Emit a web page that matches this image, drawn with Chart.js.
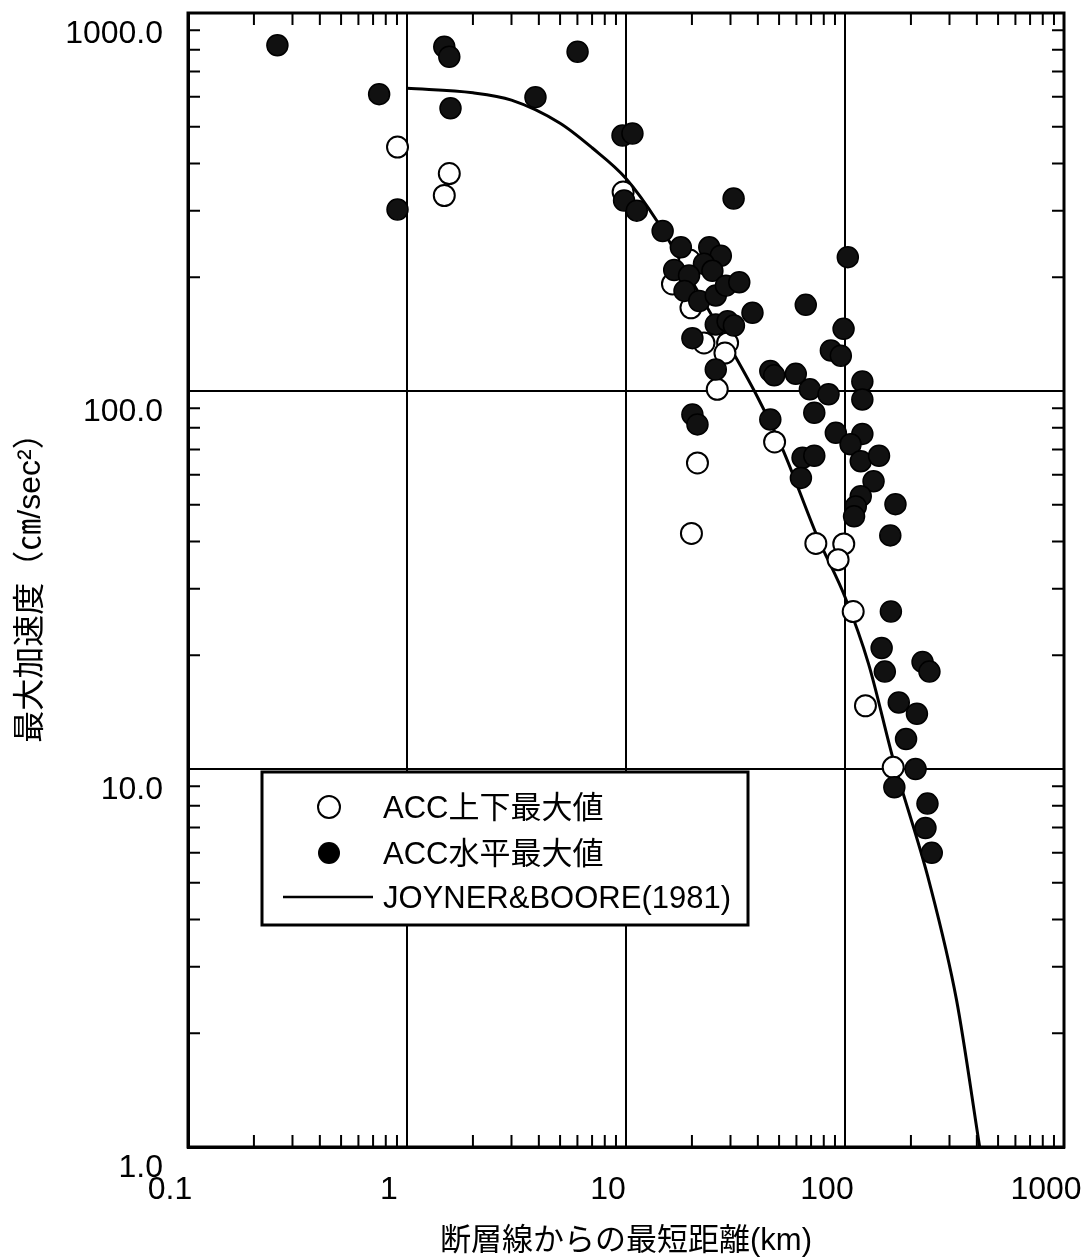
<!DOCTYPE html>
<html lang="ja">
<head>
<meta charset="UTF-8">
<title>最大加速度と断層線からの最短距離</title>
<script src="https://cdn.jsdelivr.net/npm/chart.js@4"></script>
<style>
  html, body { margin: 0; padding: 0; background: #fff; }
</style>
</head>
<body>
<canvas id="chart" width="1092" height="1260"></canvas>
<script>
// 目盛り (対数軸、10のべき乗だけラベル)
const xTickValues = [0.1, 1, 10, 100, 1000];
const xTickLabels = ['0.1', '1', '10', '100', '1000'];
const yTickValues = [1, 10, 100, 1000];
const yTickLabels = ['1.0', '10.0', '100.0', '1000.0'];

// ACC上下最大値 (白丸) - 図から読み取り
const openDist = [0.905, 1.56, 1.48, 9.7, 16.3, 19.5, 19.8, 22.7, 29.1, 28.3, 26.1, 47.7, 21.2, 19.9, 73.6, 98.7, 93, 109, 124, 166];
const openAcc  = [442, 376, 329, 336, 192, 222, 166, 134, 134, 126, 101, 73.3, 64.5, 42.0, 39.5, 39.4, 35.8, 26.1, 14.7, 10.1];

// ACC水平最大値 (黒丸)
const solidDist = [0.256, 0.746, 0.905, 1.48, 1.56, 1.58, 3.86, 6.01, 9.64, 10.7, 9.8, 11.2,
  14.7, 17.8, 24.0, 27.1, 22.7, 24.8, 31.0, 16.6, 19.4, 18.5, 21.6, 25.7, 28.6, 32.9, 37.8,
  25.7, 29.1, 31.1, 20.1, 66.2, 98.5, 103, 86.2, 95.7, 25.7, 45.6, 47.5, 59.6, 69.1, 84.1,
  120, 120, 20.1, 21.2, 45.6, 72.4, 90.8, 120, 106, 118, 143, 64, 72.4, 62.9, 135, 118, 112,
  110, 170, 161, 162, 147, 152, 226, 243, 176, 213, 190, 210, 168, 238, 233, 249];
const solidAcc = [822, 610, 302, 814, 766, 560, 599, 790, 474, 480, 319, 300,
  265, 240, 240, 228, 217, 208, 323, 209, 202, 184, 173, 179, 190, 194, 161,
  150, 153, 149, 138, 169, 146, 226, 128, 124, 114, 113, 110, 111, 101, 98,
  106, 95, 86.7, 81.6, 84.1, 87.6, 77.5, 77, 72.3, 65.2, 67.4, 66.6, 67.4, 58.9, 57.7, 52.7, 49.5,
  46.6, 50.2, 41.5, 26.1, 20.9, 18.1, 19.2, 18.1, 15.0, 14.0, 12.0, 10.0, 8.95, 8.1, 6.98, 6.0];

// JOYNER&BOORE(1981) 曲線 - 図から読み取り
const curveDist = [1, 2, 3, 5, 7, 10, 14, 20, 30, 40, 52, 75, 100, 128, 166, 243, 323, 412];
const curveAcc  = [632, 615, 588, 511, 440, 365, 279, 195, 130, 96, 70, 41, 28.5, 19, 10.6, 5.0, 2.45, 1.0];

const toPoints = (xs, ys) => xs.map((x, i) => ({ x: x, y: ys[i] }));

const FONT = "'Liberation Sans', 'Noto Sans CJK JP', sans-serif";
Chart.defaults.font.family = FONT;
Chart.defaults.font.size = 32;
Chart.defaults.color = '#000';

// 内向きの補助目盛りと枠線
const minorTicks = {
  id: 'minorTicks',
  beforeDatasetsDraw(chart) {
    const { ctx, chartArea: a, scales: { x, y } } = chart;
    ctx.save();
    ctx.strokeStyle = '#000';
    ctx.lineWidth = 2;
    ctx.beginPath();
    for (let e = -1; e < 3; e++) {
      for (let m = 2; m <= 9; m++) {
        const px = x.getPixelForValue(m * Math.pow(10, e));
        ctx.moveTo(px, a.bottom); ctx.lineTo(px, a.bottom - 12);
        ctx.moveTo(px, a.top); ctx.lineTo(px, a.top + 12);
      }
    }
    for (let e = 0; e < 3; e++) {
      for (let m = 2; m <= 9; m++) {
        const py = y.getPixelForValue(m * Math.pow(10, e));
        ctx.moveTo(a.left, py); ctx.lineTo(a.left + 12, py);
        ctx.moveTo(a.right, py); ctx.lineTo(a.right - 12, py);
      }
    }
    ctx.stroke();
    ctx.lineWidth = 3;
    ctx.strokeRect(a.left, a.top, a.right - a.left, a.bottom - a.top);
    ctx.restore();
  }
};

// 枠付きの凡例 (グラフ内左下)
const boxLegend = {
  id: 'boxLegend',
  afterDatasetsDraw(chart) {
    const { ctx, chartArea: a } = chart;
    const ds = chart.data.datasets;
    const bx = a.left + 74, by = a.top + 759, bw = 486, bh = 153;
    ctx.save();
    ctx.fillStyle = '#fff';
    ctx.fillRect(bx, by, bw, bh);
    ctx.lineWidth = 3;
    ctx.strokeStyle = '#000';
    ctx.strokeRect(bx, by, bw, bh);

    ctx.font = '31px ' + FONT;
    ctx.textBaseline = 'middle';
    ctx.fillStyle = '#000';
    const tx = bx + 121, mx = bx + 67;

    // 白丸
    ctx.beginPath();
    ctx.arc(mx, by + 35, 11, 0, Math.PI * 2);
    ctx.fillStyle = '#fff'; ctx.fill();
    ctx.lineWidth = 2; ctx.stroke();
    ctx.fillStyle = '#000';
    ctx.fillText(ds[1].label, tx, by + 37);

    // 黒丸
    ctx.beginPath();
    ctx.arc(mx, by + 81, 11, 0, Math.PI * 2);
    ctx.fill();
    ctx.fillText(ds[0].label, tx, by + 83);

    // 線
    ctx.beginPath();
    ctx.lineWidth = 2.5;
    ctx.moveTo(bx + 21, by + 125);
    ctx.lineTo(bx + 111, by + 125);
    ctx.stroke();
    ctx.fillText(ds[2].label, tx, by + 127);
    ctx.restore();
  }
};

new Chart(document.getElementById('chart'), {
  type: 'scatter',
  data: {
    datasets: [
      {
        label: 'ACC水平最大値',
        data: toPoints(solidDist, solidAcc),
        order: 0,
        pointRadius: 10.5,
        backgroundColor: '#111',
        borderColor: '#000',
        borderWidth: 1.5
      },
      {
        label: 'ACC上下最大値',
        data: toPoints(openDist, openAcc),
        order: 1,
        pointRadius: 10.5,
        backgroundColor: '#fff',
        borderColor: '#000',
        borderWidth: 2
      },
      {
        label: 'JOYNER&BOORE(1981)',
        data: toPoints(curveDist, curveAcc),
        order: 2,
        showLine: true,
        pointRadius: 0,
        borderColor: '#000',
        borderWidth: 3,
        cubicInterpolationMode: 'monotone',
        fill: false
      }
    ]
  },
  options: {
    responsive: false,
    animation: false,
    layout: { padding: { top: 13, right: 28, left: 0, bottom: 0 } },
    plugins: {
      legend: { display: false },
      tooltip: { enabled: false }
    },
    scales: {
      x: {
        type: 'logarithmic',
        min: 0.1,
        max: 1000,
        afterBuildTicks: s => { s.ticks = xTickValues.map(v => ({ value: v })); },
        afterFit: s => {
          s.height = 113;
          s.paddingLeft = 0; s.paddingRight = 0; s.paddingTop = 0; s.paddingBottom = 0;
        },
        ticks: {
          callback: (v, i) => xTickLabels[i],
          padding: 24,
          labelOffset: -18,
          maxRotation: 0,
          autoSkip: false
        },
        grid: { color: '#000', lineWidth: 2, drawTicks: false },
        border: { color: '#000', width: 3 },
        title: {
          display: true,
          text: '断層線からの最短距離(km)',
          font: { size: 31 },
          padding: { top: 0, bottom: 0 }
        }
      },
      y: {
        type: 'logarithmic',
        min: 1,
        max: 1000,
        afterBuildTicks: s => { s.ticks = yTickValues.map(v => ({ value: v })); },
        afterFit: s => {
          s.width = 188;
          s.paddingLeft = 0; s.paddingRight = 0; s.paddingTop = 0; s.paddingBottom = 0;
        },
        ticks: {
          callback: (v, i) => yTickLabels[i],
          padding: 25,
          labelOffset: 21,
          autoSkip: false
        },
        grid: { color: '#000', lineWidth: 2, drawTicks: false },
        border: { color: '#000', width: 3 },
        title: {
          display: true,
          text: '最大加速度（㎝/sec²）',
          font: { size: 32 },
          padding: { top: 12, bottom: 0 }
        }
      }
    }
  },
  plugins: [minorTicks, boxLegend]
});
</script>
</body>
</html>
